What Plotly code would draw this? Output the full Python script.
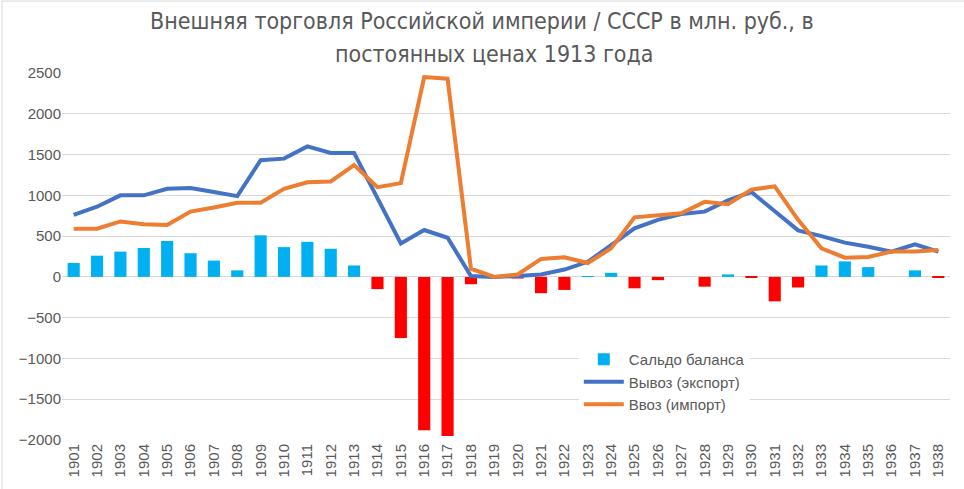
import plotly.graph_objects as go

years = [str(y) for y in range(1901, 1939)]

export_vals = [760, 860, 1000, 1000, 1080, 1090, 1040, 990, 1430, 1450,
               1600, 1520, 1520, 970, 410, 575, 480, 10, 0, 10,
               30, 90, 185, 390, 595, 700, 770, 800, 940, 1040,
               800, 570, 500, 420, 370, 310, 400, 310]

import_vals = [590, 590, 680, 645, 635, 800, 850, 910, 910, 1080,
               1160, 1170, 1370, 1100, 1150, 2450, 2430, 100, 0, 30,
               220, 240, 170, 350, 730, 750, 780, 920, 890, 1070,
               1110, 700, 350, 235, 245, 310, 310, 330]

balance_vals = [170, 260, 310, 355, 440, 290, 200, 80, 510, 365,
                430, 345, 140, -150, -750, -1880, -1950, -90, 0, -20,
                -200, -160, 10, 50, -140, -40, 0, -120, 30, -10,
                -300, -130, 140, 190, 120, 0, 80, -10]

title_lines = ["Внешняя торговля Российской империи / СССР в млн. руб., в",
               "постоянных ценах 1913 года"]

bar_colors = ["#00B0F0" if v >= 0 else "#FF0000" for v in balance_vals]

fig = go.Figure()
fig.add_trace(go.Bar(
    x=years, y=balance_vals, name="Сальдо баланса",
    marker=dict(color=bar_colors, line=dict(width=0)),
    width=0.52,
))
fig.add_trace(go.Scatter(
    x=years, y=export_vals, name="Вывоз (экспорт)", mode="lines",
    line=dict(color="#4472C4", width=4),
))
fig.add_trace(go.Scatter(
    x=years, y=import_vals, name="Ввоз (импорт)", mode="lines",
    line=dict(color="#ED7D31", width=4),
))

title_font = dict(family="Liberation Sans Narrow, DejaVu Sans Condensed, sans-serif",
                  size=23, color="#595959")
for txt, xp, yp in zip(title_lines, [0.473, 0.4876], [1.1417, 1.0513]):
    fig.add_annotation(text=txt, xref="paper", yref="paper", x=xp, y=yp,
                       xanchor="center", yanchor="middle", showarrow=False,
                       font=title_font)

# light frame at top and left edge of chart area
fig.add_shape(type="line", xref="paper", yref="paper",
              x0=-0.068, x1=1.016, y0=1.196, y1=1.196,
              line=dict(color="#D9D9D9", width=1))
fig.add_shape(type="line", xref="paper", yref="paper",
              x0=-0.0675, x1=-0.0675, y0=1.196, y1=-0.14,
              line=dict(color="#D9D9D9", width=1))

fig.update_layout(
    width=964, height=489,
    margin=dict(l=62, r=14, t=73, b=49),
    paper_bgcolor="white", plot_bgcolor="white",
    font=dict(family="Liberation Sans, Arial, sans-serif", color="#595959"),
    showlegend=True,
    legend=dict(x=0.582, y=0.264, xanchor="left", yanchor="top",
                bgcolor="white", font=dict(size=15, color="#595959"),
                tracegroupgap=0, itemwidth=40),
    bargap=0.45,
)
fig.update_xaxes(type="category", tickangle=-90, tickfont=dict(size=15, color="#595959"),
                 showgrid=False, showline=False, ticks="", ticklen=0)
fig.update_yaxes(range=[-2000, 2500], dtick=500, tick0=0,
                 showgrid=True, gridcolor="#D9D9D9", gridwidth=1,
                 zeroline=True, zerolinecolor="#D9D9D9", zerolinewidth=1,
                 tickfont=dict(size=15, color="#595959"), showline=False)

fig.write_html("out.html")
